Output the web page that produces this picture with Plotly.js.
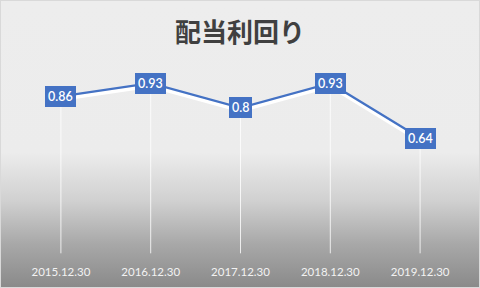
<!DOCTYPE html>
<html><head><meta charset="utf-8">
<script src="https://cdn.plot.ly/plotly-3.0.1.min.js"></script>
<style>
html,body{margin:0;padding:0;}
#chart{width:478px;height:286px;border:1px solid #d9d9d9;
background:linear-gradient(to bottom,#ededed 0%,#ececec 53%,#d0d0d0 70%,#a8a8a8 85%,#8a8a8a 100%);}
</style></head>
<body><div id="chart"></div>
<script>
var categories = ['2015.12.30','2016.12.30','2017.12.30','2018.12.30','2019.12.30'];
var yieldValues = [0.86, 0.93, 0.8, 0.93, 0.64];
var chartTitle = '配当利回り';

var shadowOffset = 0.014;
var shadow = {
  x: categories, y: yieldValues.map(function(v){return v - shadowOffset;}),
  type: 'scatter', mode: 'lines', line: {color: '#ffffff', width: 4},
  hoverinfo: 'skip', showlegend: false
};
var drops = {
  x: categories, y: yieldValues, type: 'scatter', mode: 'markers',
  marker: {size: 0.1, color: 'rgba(0,0,0,0)'},
  error_y: {type: 'data', symmetric: false, array: yieldValues.map(function(){return 0;}),
    arrayminus: yieldValues.map(function(v){return v - 0.03;}), color: 'rgba(255,255,255,0.8)', thickness: 1, width: 0},
  showlegend: false, hoverinfo: 'skip'
};
var line = {
  x: categories, y: yieldValues, type: 'scatter', mode: 'lines',
  line: {color: '#4472c4', width: 2.25}, showlegend: false
};
var annotations = categories.map(function(c, i){
  return {x: c, y: yieldValues[i], xref: 'x', yref: 'y', text: String(yieldValues[i]),
    showarrow: false, bgcolor: '#4472c4', borderpad: 3, borderwidth: 0,
    font: {family: 'Lato, "Open Sans", sans-serif', size: 12.5, color: '#ffffff', weight: 600}};
});
var layout = {
  width: 478, height: 286,
  margin: {l: 15, r: 14, t: 69, b: 28, pad: 0},
  paper_bgcolor: 'rgba(0,0,0,0)', plot_bgcolor: 'rgba(0,0,0,0)',
  title: {text: chartTitle, x: 0.5, xanchor: 'center', y: 0.89, yanchor: 'middle',
    font: {family: '"Noto Sans CJK JP", sans-serif', size: 26, color: '#404040', weight: 'bold'}},
  xaxis: {type: 'category', range: [-0.5, 4.5], showgrid: false, zeroline: false, showline: false,
    ticks: '', ticklabelstandoff: 4,
    tickfont: {family: 'Lato, "Open Sans", sans-serif', size: 11.5, color: '#f2f2f2'}},
  yaxis: {range: [0, 1], visible: false, showgrid: false, zeroline: false},
  annotations: annotations,
  showlegend: false
};
Plotly.newPlot('chart', [drops, shadow, line], layout, {staticPlot: true, displayModeBar: false});
</script></body></html>
